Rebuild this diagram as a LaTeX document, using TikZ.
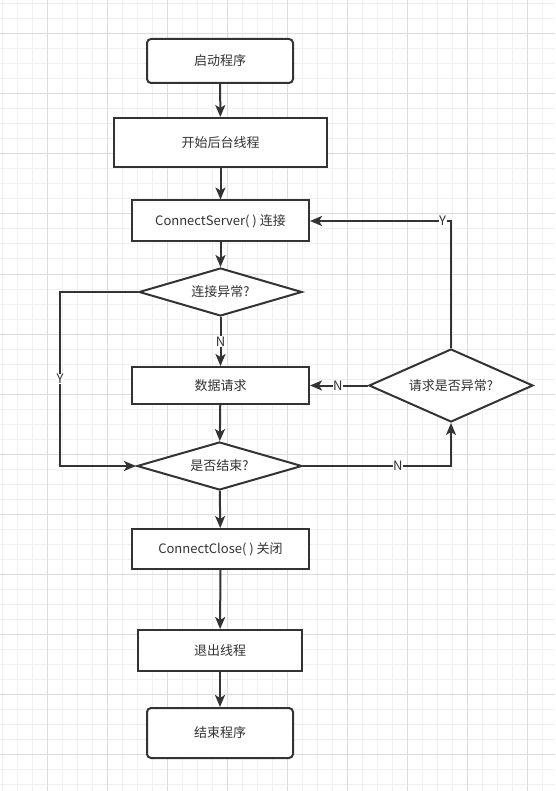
\documentclass[tikz,border=0pt]{standalone}
\usepackage{fontspec}
\setmainfont{Noto Sans CJK SC}
\usetikzlibrary{shapes.geometric}
\usetikzlibrary{arrows.meta}
\definecolor{inkgray}{HTML}{333333}
\definecolor{minorgrid}{HTML}{F0F0F0}
\definecolor{majorgrid}{HTML}{DCDCDC}
\tikzset{
  procbox/.style={draw=inkgray, line width=2pt, fill=white, text=inkgray, font=\fontsize{13}{15}\selectfont, inner sep=0pt},
  termbox/.style={procbox, rounded corners=4pt},
  decision/.style={procbox, diamond, aspect=3},
  flow/.style={draw=inkgray, line width=2pt, -{Stealth[length=12pt,width=10pt,inset=3pt]}},
  yn/.style={fill=white, text=inkgray, inner sep=0.5pt, font=\fontsize{13}{15}\selectfont},
}
\newcommand{\proc}[6]{ \node[procbox, minimum width=#4pt, minimum height=#5pt] (#1) at ( #2 , #3 ) {#6};}
\newcommand{\term}[6]{ \node[termbox, minimum width=#4pt, minimum height=#5pt] (#1) at ( #2 , #3 ) {#6};}
\newcommand{\decide}[6]{ \node[decision, minimum width=#4pt, minimum height=#5pt] (#1) at ( #2 , #3 ) {#6};}

\begin{document}
\begin{tikzpicture}[x=1pt, y=-1pt]

        \useasboundingbox (0,0) rectangle (555,791);
        \fill[white] (0,0) rectangle (555,791);

        % grid
        \foreach \gx in {2,17,...,555} \draw[minorgrid, line width=1pt] (\gx,0) -- (\gx,791);
        \foreach \gy in {4,19,...,791} \draw[minorgrid, line width=1pt] (0,\gy) -- (555,\gy);
        \foreach \gx in {47,107,...,555} \draw[majorgrid, line width=1pt] (\gx,0) -- (\gx,791);
        \foreach \gy in {34,94,...,791} \draw[majorgrid, line width=1pt] (0,\gy) -- (555,\gy);

        % main column
        \term{start}{220}{61}{146}{44}{启动程序}
        \proc{thread}{220.5}{142.5}{213}{49}{开始后台线程}
        \proc{connect}{220.5}{221}{177}{41}{ConnectServer( ) 连接}
        \decide{connerr}{220.5}{292}{163}{48}{连接异常?}
        \proc{request}{220.5}{385.5}{177}{37}{数据请求}
        \decide{finish}{219.5}{466}{165}{48}{是否结束?}
        \proc{close}{220.5}{549}{177}{40}{ConnectClose( ) 关闭}
        \proc{exit}{220}{650.5}{164}{41}{退出线程}
        \term{stop}{220}{733}{146}{50}{结束程序}

        % right side
        \decide{reqerr}{451}{385.5}{164}{73}{请求是否异常?}

        \coordinate (yloop) at (60,466);

        \draw[flow] (start) -- (thread);
        \draw[flow] (thread) -- (connect);
        \draw[flow] (connect) -- (connerr);
        \draw[flow] (connerr) -- node[yn] {N} (request);
        \draw[flow] (request) -- (finish);
        \draw[flow] (finish) -- (close);
        \draw[flow] (close) -- (exit);
        \draw[flow] (exit) -- (stop);

        \draw[flow] (connerr.west) -| node[yn, pos=0.75] {Y} (yloop) -- (finish.west);
        \draw[flow] (finish.east) -| node[yn, pos=0.32] {N} (reqerr.south);
        \draw[flow] (reqerr.west) -- node[yn, pos=0.52] {N} (request.east);
        \draw[flow] (reqerr.north) |- node[yn, pos=0.53] {Y} (connect.east);

    \end{tikzpicture}
\end{document}
